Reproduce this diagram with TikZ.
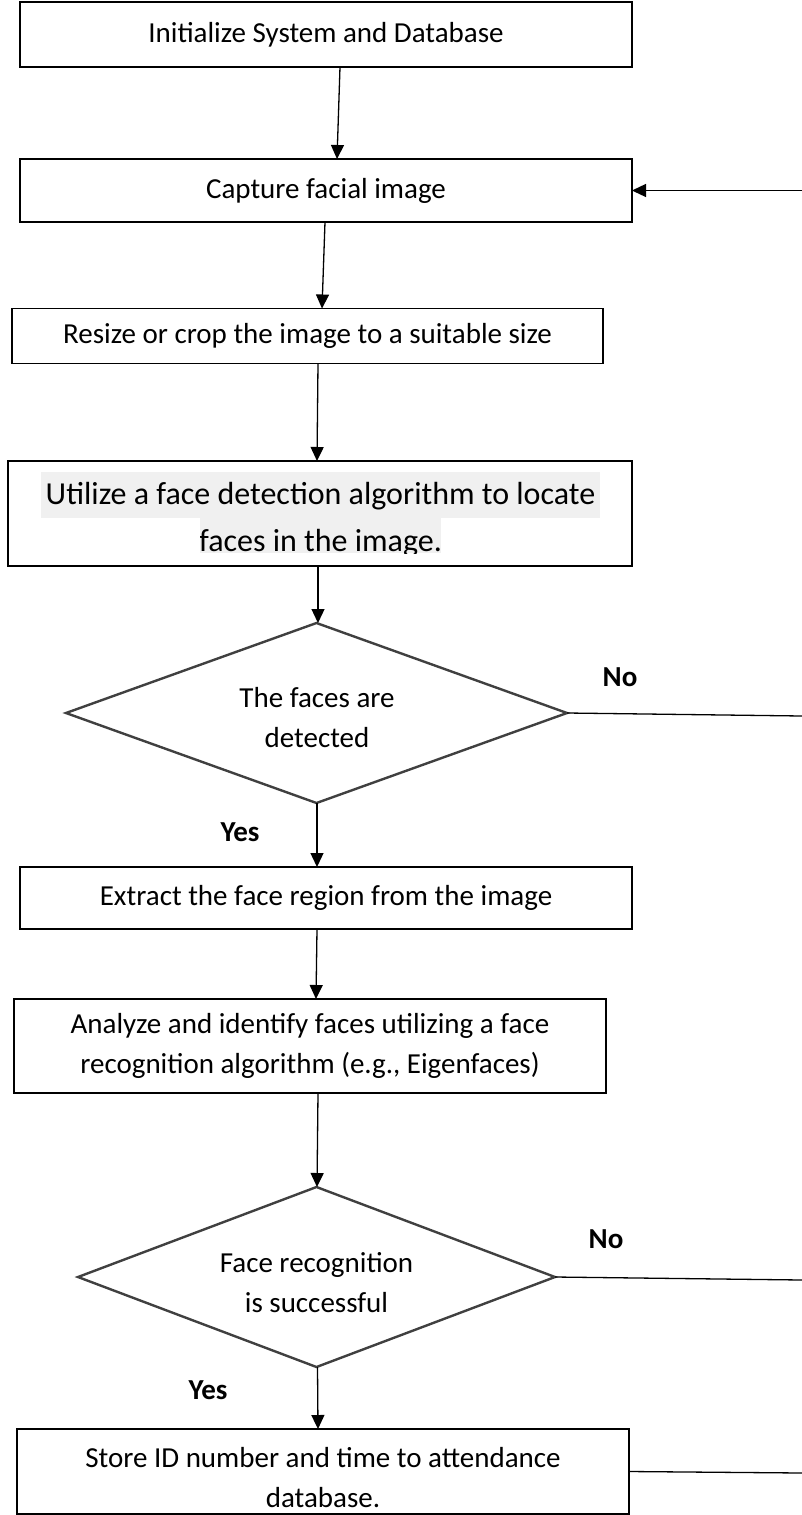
\documentclass[tikz,border=0pt]{standalone}
\usepackage{fontspec}
\setmainfont{Carlito}
\usetikzlibrary{arrows.meta,shapes.geometric}
\begin{document}
\begin{tikzpicture}[x=1pt,y=-1pt,
  box/.style={draw=black,line width=1.3pt,inner sep=0pt,outer sep=0pt,align=center,font=\fontsize{29}{39.5}\selectfont},
  dec/.style={diamond,draw=black!75,line width=2.4pt,inner sep=0pt,outer sep=0pt},
  txt/.style={inner sep=0pt,align=center,font=\fontsize{29}{39.5}\selectfont},
  bigtxt/.style={inner sep=0pt,align=center,font=\fontsize{32}{45}\selectfont},
  conn/.style={draw=black,line width=1.3pt},
  arr/.style={conn,-{Triangle[length=14pt,width=13pt]}},
  lbl/.style={inner sep=0pt,font=\fontsize{29}{35}\selectfont\bfseries}]
\useasboundingbox (0,0) rectangle (802,1515);

% boxes
\node[box,minimum width=612pt,minimum height=65pt] (b1) at (326,34.5) {Initialize System and Database};
\node[box,minimum width=612pt,minimum height=63pt] (b2) at (326,190.5) {Capture facial image};
\node[box,minimum width=591pt,minimum height=55pt] (b3) at (307.5,336) {Resize or crop the image to a suitable size};
\node[box,minimum width=624pt,minimum height=105pt] (b4) at (320,513.5) {};
\fill[black!6] (41,472) rectangle (600,518);
\fill[black!6] (200,518) rectangle (441,553);
\node[bigtxt] (t4a) at (320.5,496) {Utilize a face detection algorithm to locate};
\begin{scope}
  \clip (200,518) rectangle (441,553);
  \node[bigtxt] (t4b) at (320.5,543) {faces in the image.};
\end{scope}

% decision 1
\node[dec,minimum width=501pt,minimum height=180pt] (d1) at (316.5,713) {};
\node[txt] (t1) at (317,717.5) {The faces are\\detected};

\node[box,minimum width=612pt,minimum height=62pt] (b5) at (326,898) {Extract the face region from the image};
\node[box,minimum width=592pt,minimum height=94pt] (b6) at (310,1046) {Analyze and identify faces utilizing a face\\recognition algorithm (e.g., Eigenfaces)};

% decision 2
\node[dec,minimum width=477pt,minimum height=180pt] (d2) at (316.5,1277) {};
\node[txt] (t2) at (316.5,1282.5) {Face recognition\\is successful};

\node[box,minimum width=612pt,minimum height=85pt] (b7) at (323,1471.5) {};
\node[txt] (t7) at (323,1477.5) {Store ID number and time to attendance\\database.};

% labels
\node[lbl] (no1) at (620,677) {No};
\node[lbl] (no2) at (606,1239) {No};
\node[lbl] (yes1) at (240,832) {Yes};
\node[lbl] (yes2) at (208,1390) {Yes};

% free ends at the right edge
\coordinate (r1) at (802,190.5);
\coordinate (r2) at (802,716);
\coordinate (r3) at (802,1280);
\coordinate (r4) at (802,1473);

% connectors
\draw[arr] ([xshift=14pt]b1.south) -- ([xshift=11pt]b2.north);
\draw[arr] ([xshift=-1pt]b2.south) -- ([xshift=14.5pt]b3.north);
\draw[arr] ([xshift=10.5pt]b3.south) -- ([xshift=-3pt]b4.north);
\draw[arr] ([xshift=-2pt]b4.south) -- ([xshift=1.5pt]d1.north);
\draw[arr] ([xshift=0.5pt]d1.south) -- ([xshift=-9pt]b5.north);
\draw[arr] ([xshift=-9pt]b5.south) -- ([xshift=6pt]b6.north);
\draw[arr] ([xshift=8pt]b6.south) -- ([xshift=0.5pt]d2.north);
\draw[arr] ([xshift=1pt]d2.south) -- ([xshift=-5pt]b7.north);
\draw[arr] (r1) -- (b2.east);
\draw[conn] (d1.east) -- (r2);
\draw[conn] (d2.east) -- (r3);
\draw[conn] (b7.east) -- (r4);
\end{tikzpicture}
\end{document}
